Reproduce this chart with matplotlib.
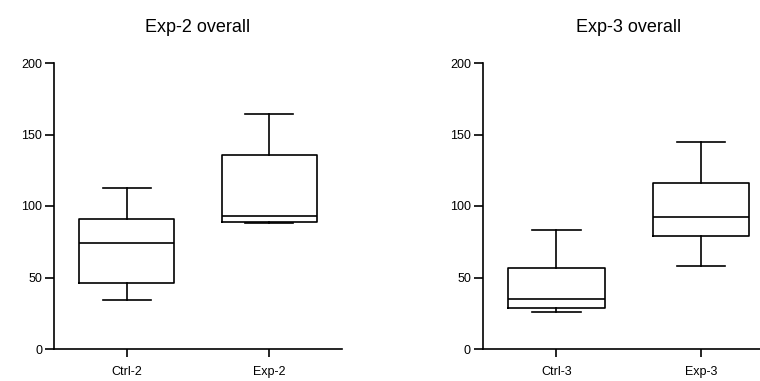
import matplotlib
matplotlib.use("Agg")
import matplotlib.pyplot as plt

plt.rcParams['font.family'] = ['Liberation Sans', 'DejaVu Sans']

# five-number summaries
titles = ["Exp-2 overall", "Exp-3 overall"]
labels = [["Ctrl-2", "Exp-2"], ["Ctrl-3", "Exp-3"]]
mins = [[34, 88], [25.7, 58.3]]
q1s = [[46, 89], [28.7, 78.8]]
medians = [[74, 93], [34.7, 92]]
q3s = [[91, 136], [56.6, 116.3]]
maxs = [[112.6, 164], [83, 144.8]]
yticks = [0, 50, 100, 150, 200]

fig = plt.figure(figsize=(7.6, 3.81), dpi=100)
lefts = [54 / 760, 482.7 / 760]
widths = [288 / 760, 292 / 760]

for i in range(2):
    ax = fig.add_axes([lefts[i], 32 / 381, widths[i], 286 / 381])
    stats = []
    for j in range(2):
        stats.append(dict(label=labels[i][j], whislo=mins[i][j], q1=q1s[i][j],
                          med=medians[i][j], q3=q3s[i][j], whishi=maxs[i][j],
                          fliers=[]))
    lw = 1.2
    ax.bxp(stats, positions=[0, 1], widths=0.67, showfliers=False,
           boxprops=dict(color='black', linewidth=lw),
           medianprops=dict(color='black', linewidth=lw),
           whiskerprops=dict(color='black', linewidth=lw),
           capprops=dict(color='black', linewidth=lw))
    ax.set_xlim(-0.51, 1.51)
    ax.set_ylim(0, 200)
    ax.set_yticks(yticks)
    ax.spines['top'].set_visible(False)
    ax.spines['right'].set_visible(False)
    for s in ['left', 'bottom']:
        ax.spines[s].set_linewidth(1.2)
    ax.tick_params(axis='y', length=6.5, width=1.2, pad=2, labelsize=9)
    ax.tick_params(axis='x', length=6, width=1.2, pad=6, labelsize=9)
    ax.set_title(titles[i], fontsize=13, pad=22)

fig.savefig("out.png", dpi=100)
